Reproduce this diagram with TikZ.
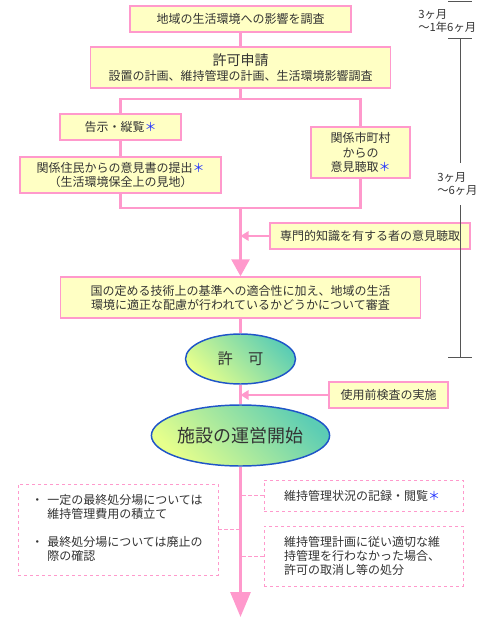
\documentclass[tikz,border=0pt]{standalone}
\usepackage{fontspec}
\setmainfont{Noto Sans CJK JP}
\usetikzlibrary{arrows.meta,shapes.geometric}

\definecolor{boxfill}{HTML}{FFFFC4}
\definecolor{pinkline}{HTML}{FF99CC}
\definecolor{ovalline}{HTML}{1F55C8}
\definecolor{ovaltop}{HTML}{E6FF8C}
\definecolor{ovalbot}{HTML}{5CCDB4}
\definecolor{inktext}{HTML}{333333}
\definecolor{astblue}{HTML}{2233FF}
\definecolor{scalegray}{HTML}{555555}

\newcommand{\kome}{\textcolor{astblue}{＊}}
\newcommand{\fsz}[2]{\fontsize{#1}{#2}\selectfont}

\begin{document}
\begin{tikzpicture}[x=0.75pt,y=-0.75pt,
  box/.style={draw=pinkline,line width=1.1pt,fill=boxfill,inner sep=0pt,align=center,text=inktext,font=\fsz{9}{11}},
  oval/.style={ellipse,draw=ovalline,line width=1.1pt,top color=ovalbot,bottom color=ovaltop,shading angle=-45,inner sep=0pt,text=inktext},
  note/.style={draw=pinkline,line width=0.6pt,dash pattern=on 2.5pt off 2pt,inner ysep=0pt,align=left,text=inktext,font=\fsz{9}{10.5}},
  flow/.style={draw=pinkline,line width=2.2pt},
  feed/.style={draw=pinkline,line width=1.5pt,-{Triangle[width=7pt,length=6pt]}},
  link/.style={draw=pinkline,line width=0.6pt,dash pattern=on 2.5pt off 2pt},
  span/.style={draw=scalegray,line width=0.75pt},
  spantext/.style={anchor=west,align=left,inner sep=0pt,text=inktext,font=\fsz{8.5}{9.75}}]
\useasboundingbox (0,0) rectangle (480,620);

\node[box,minimum width=165.75pt,minimum height=19.5pt] (survey) at (240.5,19) {地域の生活環境への影響を調査};
\node[box,minimum width=225pt,minimum height=30.75pt] (apply) at (240.5,67.5)
  {{\fsz{10.5}{12}許可申請}\\設置の計画、維持管理の計画、生活環境影響調査};
\node[box,minimum width=90.75pt,minimum height=19.5pt] (notice) at (120.5,127) {告示・縦覧\kome};
\node[box,minimum width=150.75pt,minimum height=27pt] (resident) at (120.5,175)
  {関係住民からの意見書の提出\kome\\（生活環境保全上の見地）};
\node[box,minimum width=74.25pt,minimum height=38.25pt] (city) at (360.5,152.5)
  {関係市町村\\からの\\意見聴取\kome};
\node[box,minimum width=150pt,minimum height=19.5pt] (expert) at (370,236) {専門的知識を有する者の意見聴取};
\node[box,minimum width=270pt,minimum height=30.75pt,font=\fsz{9}{10.5}] (review) at (240.5,297.5)
  {国の定める技術上の基準への適合性に加え、地域の生活\\環境に適正な配慮が行われているかどうかについて審査};
\node[oval,minimum width=82.5pt,minimum height=37.5pt,font=\fsz{11.5}{13}] (permit) at (240.5,359) {許　可};
\node[box,minimum width=89.25pt,minimum height=19.5pt] (check) at (388.5,395) {使用前検査の実施};
\node[oval,minimum width=127.5pt,minimum height=45.75pt,font=\fsz{13.5}{15}] (start) at (240.5,435.5) {施設の運営開始};

\node[note,inner xsep=10pt,text width=130pt,minimum height=68.25pt] (keep) at (118,529.5)
  {\begin{tabular}{@{}l@{\hspace{3pt}}l@{}}
   ・&一定の最終処分場については\\
    &維持管理費用の積立て\\[10pt]
   ・&最終処分場については廃止の\\
    &際の確認
   \end{tabular}};
\node[note,inner xsep=15pt,text width=119.25pt,minimum height=23.25pt] (record) at (363.5,495.5)
  {維持管理状況の記録・閲覧\kome};
\node[note,inner xsep=15pt,text width=119.25pt,minimum height=45pt] (revoke) at (363.5,556)
  {維持管理計画に従い適切な維\\持管理を行わなかった場合、\\許可の取消し等の処分};

\coordinate (split) at (240.5,99);
\coordinate (join) at (240.5,208);
\coordinate (tail) at (240.5,617);

\draw[flow] (survey) -- (apply);
\draw[flow] (apply) -- (split);
\draw[flow] (notice.north) |- (split) -| (city.north);
\draw[flow] (notice) -- (resident);
\draw[flow] (resident.south) |- (join) -| (city.south);
\draw[flow,-{Triangle[width=13.5pt,length=12.75pt]}] (join) -- (review.north);
\draw[feed] (expert.west) -- (expert.west -| join);
\draw[flow] (review) -- (permit);
\draw[flow] (permit) -- (start);
\draw[feed] (check.west) -- (check.west -| start);
\draw[flow,-{Triangle[width=15pt,length=18.75pt]}] (start) -- (tail);

\draw[link] (keep.east) -- (keep.east -| tail);
\draw[link] (record.west) -- (record.west -| tail);
\draw[link] (revoke.west) -- (revoke.west -| tail);

\coordinate (mark0) at (460,2);
\coordinate (mark1) at (460,39);
\coordinate (mark2) at (460,357);
\node[spantext] (span1) at (418,21.5) {3ヶ月\\～1年6ヶ月};
\node[spantext,minimum height=31.5pt] (span2) at (437,184) {3ヶ月\\～6ヶ月};
\draw[span] (mark0) ++(-12,0) -- ++(24,0);
\draw[span] (mark1) ++(-12,0) -- ++(24,0);
\draw[span] (mark2) ++(-12,0) -- ++(24,0);
\draw[span] (mark1) -- (span2.north -| mark1);
\draw[span] (span2.south -| mark1) -- (mark2);
\end{tikzpicture}
\end{document}
